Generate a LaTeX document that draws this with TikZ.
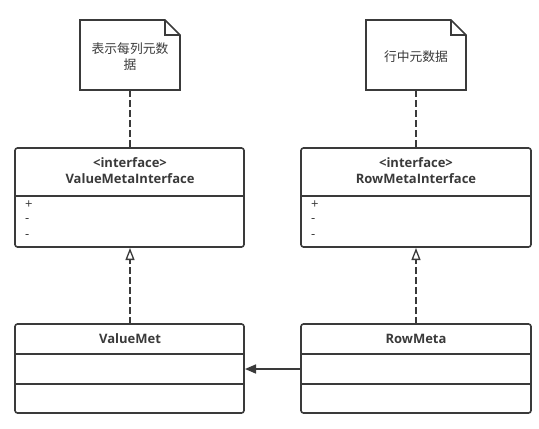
\documentclass[tikz,border=0pt]{standalone}
\usepackage{fontspec}
\setmainfont{Open Sans}
\newfontfamily\cjk{Noto Sans CJK SC}
\usetikzlibrary{arrows.meta}
\definecolor{ln}{HTML}{3A3A3A}
\begin{document}
\begin{tikzpicture}[x=1pt,y=-1pt,
  boxline/.style={draw=ln,line width=1.6pt},
  cls/.style={boxline,rounded corners=2.5pt},
  sep/.style={draw=ln,line width=1.4pt},
  dashline/.style={draw=ln,line width=1.7pt,dash pattern=on 7pt off 3pt},
  txt/.style={font=\bfseries\fontsize{13}{15}\selectfont,text=ln,inner sep=0pt},
  mem/.style={font=\fontsize{13}{14}\selectfont,text=ln,inner sep=0pt,anchor=west},
  note/.style={font=\cjk\fontsize{12.8}{16}\selectfont,text=ln,inner sep=0pt,align=center}]
\useasboundingbox (0,0) rectangle (539,429);
% notes
\draw[boxline,line join=miter] (80,20) -- (165,20) -- (180,35) -- (180,90) -- (80,90) -- cycle;
\draw[boxline] (165,20) -- (165,35) -- (180,35);
\coordinate (n1b) at (130,90);
\node[note] (n1) at (130,57) {表示每列元数\\据};
\draw[boxline,line join=miter] (366,20) -- (451,20) -- (466,35) -- (466,90) -- (366,90) -- cycle;
\draw[boxline] (451,20) -- (451,35) -- (466,35);
\coordinate (n2b) at (416,90);
\node[note] (n2) at (416,57) {行中元数据};
% interface boxes
\draw[cls] (15,148) rectangle (244,247);
\draw[sep] (15,196) -- (244,196);
\coordinate (i1t) at (130,148);
\coordinate (i1b) at (130,248);
\node[txt] (i1a) at (130,163) {<interface>};
\node[txt] (i1n) at (130,179) {ValueMetaInterface};
\node[mem] (i1m1) at (25,205) {+};
\node[mem] (i1m2) at (25,221) {-};
\node[mem] (i1m3) at (25,237) {-};
\draw[cls] (301,148) rectangle (531,247);
\draw[sep] (301,196) -- (531,196);
\coordinate (i2t) at (416,148);
\coordinate (i2b) at (416,248);
\node[txt] (i2a) at (416,163) {<interface>};
\node[txt] (i2n) at (416,179) {RowMetaInterface};
\node[mem] (i2m1) at (311,205) {+};
\node[mem] (i2m2) at (311,221) {-};
\node[mem] (i2m3) at (311,237) {-};
% classes
\draw[cls] (15,324) rectangle (244,413);
\draw[sep] (15,354) -- (244,354);
\draw[sep] (15,384) -- (244,384);
\node[txt] (c1) at (130,339) {ValueMet};
\coordinate (c1t) at (130,324);
\coordinate (c1r) at (245,369);
\draw[cls] (301,324) rectangle (531,413);
\draw[sep] (301,354) -- (531,354);
\draw[sep] (301,384) -- (531,384);
\node[txt] (c2) at (416,339) {RowMeta};
\coordinate (c2t) at (416,324);
\coordinate (c2l) at (301,369);
% connectors
\draw[dashline] (n1b) -- (i1t);
\draw[dashline] (n2b) -- (i2t);
\draw[dashline,-{Triangle[open,length=12pt,width=9pt,line width=1.3pt]}] (c1t) -- (i1b);
\draw[dashline,-{Triangle[open,length=12pt,width=9pt,line width=1.3pt]}] (c2t) -- (i2b);
\draw[draw=ln,line width=1.6pt,-{Triangle[length=11pt,width=9pt]}] (c2l) -- (c1r);
\end{tikzpicture}
\end{document}
